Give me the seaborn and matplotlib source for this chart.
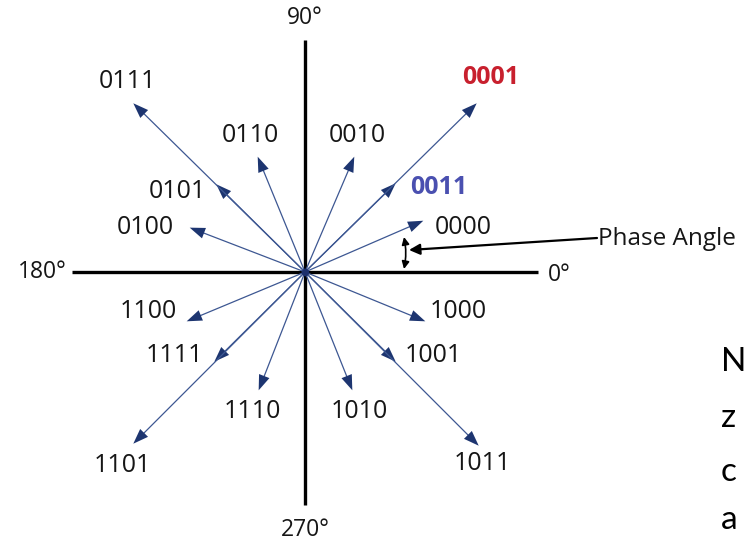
import matplotlib
matplotlib.use("Agg")
import matplotlib.pyplot as plt
import seaborn as sns
import pandas as pd

# constellation points (I, Q), origin at the axis crossing
codes = ["0000", "0011", "0010", "0001", "0100", "0101", "0110", "0111",
         "1100", "1111", "1110", "1101", "1000", "1001", "1010", "1011"]
i_vals = [120, 92, 50, 173, -117, -90, -48, -173, -120, -92, -47, -173, 122, 92, 48, 175]
q_vals = [52, 90, 117, 170, 45, 89, 117, 170, -50, -91, -120, -173, -50, -91, -120, -175]

# where each code label sits
label_x = [158, 134, 52, 186, -160, -128, -55, -178, -157, -131, -53, -183, 153, 128, 54, 177]
label_y = [44, 84, 136, 194, 44, 80, 137, 191, -40, -83, -140, -193, -40, -83, -140, -191]

axis_labels = ["0°", "90°", "180°", "270°"]

highlight = {"0001": ("#c8202e", "bold"), "0011": ("#4a50b0", "bold")}

sns.set_theme(style="white")
plt.rcParams["font.family"] = ["Open Sans", "DejaVu Sans"]

df = pd.DataFrame({"code": codes, "I": i_vals, "Q": q_vals})

fig = plt.figure(figsize=(7.49, 5.42), dpi=100)
ax = fig.add_axes([0, 0, 1, 1])
ax.set_xlim(-305, 444)
ax.set_ylim(-270, 272)
ax.set_aspect("equal")
ax.axis("off")

# axes cross
ax.plot([-233, 233], [0, 0], color="black", lw=2.4, solid_capstyle="butt", zorder=2)
ax.plot([0, 0], [-233, 232], color="black", lw=2.4, solid_capstyle="butt", zorder=2)

# vectors
for _, r in df.iterrows():
    ax.annotate("", xy=(r["I"], r["Q"]), xytext=(0, 0),
                arrowprops=dict(arrowstyle="-", color="#3d5792", lw=0.9,
                                shrinkA=0, shrinkB=6),
                zorder=3)
    ax.annotate("", xy=(r["I"], r["Q"]), xytext=(0, 0),
                arrowprops=dict(arrowstyle="-|>,head_length=0.55,head_width=0.2",
                                color="#1d3570", lw=0.9, fill=True,
                                mutation_scale=20, shrinkA=0, shrinkB=0,
                                linestyle="none"),
                zorder=3)
sns.scatterplot(x=[0], y=[0], ax=ax, color="#1c2f6b", s=30, linewidth=0, zorder=4)

# code labels
for c, lx, ly in zip(codes, label_x, label_y):
    col, wt = highlight.get(c, ("#161616", "normal"))
    ax.text(lx, ly, c, ha="center", va="center", fontsize=18, color=col,
            fontweight=wt, zorder=5,
            bbox=dict(boxstyle="square,pad=0.02", fc="white", ec="none"))

# angle labels
ax.text(243, -3, axis_labels[0], ha="left", va="center", fontsize=16.5, color="#161616")
ax.text(0, 254, axis_labels[1], ha="center", va="center", fontsize=16.5, color="#161616")
ax.text(-238, 0, axis_labels[2], ha="right", va="center", fontsize=16.5, color="#161616")
ax.text(0, -258, axis_labels[3], ha="center", va="center", fontsize=16.5, color="#161616")

# phase angle marker
ax.annotate("", xy=(99, 3), xytext=(99, 35),
            arrowprops=dict(arrowstyle="<|-|>", color="black", lw=1.2,
                            mutation_scale=11, shrinkA=0, shrinkB=0,
                            connectionstyle="arc3,rad=-0.1"))
ax.annotate("", xy=(104, 22), xytext=(292, 34),
            arrowprops=dict(arrowstyle="-|>", color="black", lw=1.6,
                            mutation_scale=16, shrinkA=0, shrinkB=0))
ax.text(293, 33, "Phase Angle", ha="left", va="center", fontsize=17.5,
        color="#161616")

# slide text at the right edge
for ch, yy in zip(["N", "z", "c", "a"], [-90, -146, -200, -248]):
    ax.text(416, yy, ch, ha="left", va="center", fontsize=24,
            color="black", family=["Lato", "DejaVu Sans"])

fig.savefig("out.png", dpi=100)
